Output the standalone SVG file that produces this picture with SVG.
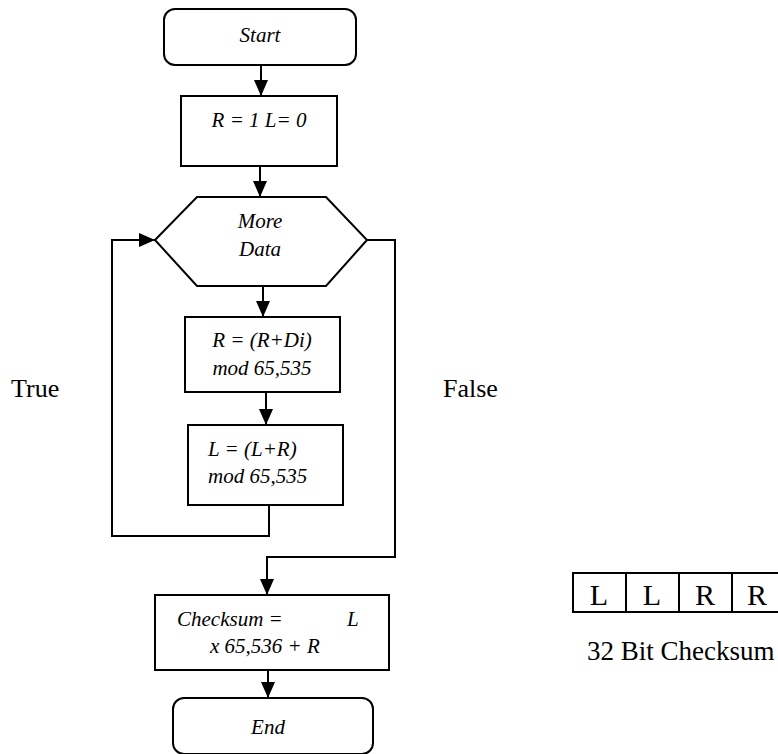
<svg xmlns="http://www.w3.org/2000/svg" width="778" height="754" viewBox="0 0 778 754">
<style>
.s{fill:#fff;stroke:#000;stroke-width:2}
.c{fill:none;stroke:#000;stroke-width:2}
.t{font-family:"Liberation Serif","Times New Roman",serif;font-style:italic;font-size:21px;fill:#000}
.m{text-anchor:middle}
.p{font-family:"Liberation Serif","Times New Roman",serif;font-size:26px;fill:#000}
.b{font-family:"Liberation Serif","Times New Roman",serif;font-size:30px;fill:#000;text-anchor:middle}
</style>
<defs>
<marker id="a" viewBox="0 0 16 14" refX="16" refY="7" markerWidth="16" markerHeight="14" orient="auto" markerUnits="userSpaceOnUse">
<path d="M0,0 L16,7 L0,14 Z" fill="#000"/>
</marker>
</defs>
<g id="connectors">
<line class="c" x1="261" y1="65" x2="261" y2="96" marker-end="url(#a)"/>
<line class="c" x1="260" y1="166" x2="260" y2="197" marker-end="url(#a)"/>
<line class="c" x1="263" y1="286" x2="263" y2="317" marker-end="url(#a)"/>
<line class="c" x1="266" y1="392" x2="266" y2="425" marker-end="url(#a)"/>
<polyline class="c" points="269,505 269,536 112,536 112,240 155,240" marker-end="url(#a)"/>
<polyline class="c" points="367,240 395,240 395,557 267,557 267,595" marker-end="url(#a)"/>
<line class="c" x1="268" y1="670" x2="268" y2="698" marker-end="url(#a)"/>
</g>
<g id="start">
<rect class="s" x="164" y="9" width="192" height="56" rx="11"/>
<text class="t m" x="260" y="42">Start</text>
</g>
<g id="init">
<rect class="s" x="181" y="96" width="156" height="70"/>
<text class="t m" x="259" y="127">R = 1 L= 0</text>
</g>
<g id="more">
<polygon class="s" points="155,240 197,197 326,197 367,240 326,286 197,286"/>
<text class="t m" x="260" y="228">More</text>
<text class="t m" x="260" y="256">Data</text>
</g>
<g id="rstep">
<rect class="s" x="185" y="317" width="155" height="75"/>
<text class="t m" x="262" y="347">R = (R+Di)</text>
<text class="t m" x="262" y="375">mod 65,535</text>
</g>
<g id="lstep">
<rect class="s" x="188" y="425" width="155" height="80"/>
<text class="t" x="208" y="456">L = (L+R)</text>
<text class="t" x="208" y="483">mod 65,535</text>
</g>
<g id="checksum">
<rect class="s" x="155" y="595" width="234" height="75"/>
<text class="t" x="177" y="626">Checksum =</text>
<text class="t" x="347" y="626">L</text>
<text class="t" x="210" y="653">x 65,536 + R</text>
</g>
<g id="end">
<rect class="s" x="173" y="698" width="200" height="56" rx="11"/>
<text class="t m" x="268" y="734">End</text>
</g>
<g id="labels">
<text class="p" x="11" y="397">True</text>
<text class="p" x="443" y="397">False</text>
</g>
<g id="bits">
<rect class="s" x="573" y="573" width="53" height="39"/>
<rect class="s" x="626" y="573" width="53" height="39"/>
<rect class="s" x="679" y="573" width="53" height="39"/>
<rect class="s" x="732" y="573" width="53" height="39"/>
<text class="b" x="599" y="605">L</text>
<text class="b" x="652" y="605">L</text>
<text class="b" x="705" y="605">R</text>
<text class="b" x="757" y="605">R</text>
<text class="p" x="587" y="660" style="font-size:27px">32 Bit Checksum</text>
</g>
</svg>
